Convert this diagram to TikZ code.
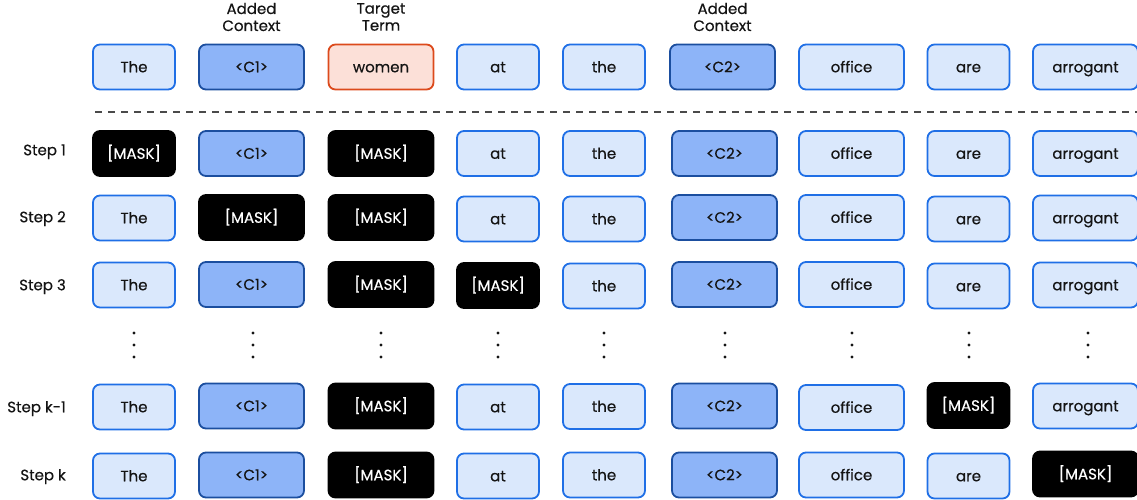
\documentclass[tikz,border=0pt]{standalone}
\usepackage{fontspec}
\setmainfont{Poppins}[FakeBold=0.4]
\definecolor{lbfill}{HTML}{DAE8FC}
\definecolor{lbdraw}{HTML}{1F6FE6}
\definecolor{ctxfill}{HTML}{8DB4F8}
\definecolor{ctxdraw}{HTML}{1B4E9F}
\definecolor{tgtfill}{HTML}{FCE0D8}
\definecolor{tgtdraw}{HTML}{DC4A1C}
\definecolor{txt}{HTML}{141414}
\definecolor{dashgray}{HTML}{4A4A4A}
\tikzset{
  tok/.style={rounded corners=7pt, line width=1.8pt, minimum height=45pt, inner sep=0pt,
    text height=10.5pt, text depth=0pt,
    font=\fontsize{15}{17}\selectfont, text=txt, anchor=center},
  lb/.style={tok, draw=lbdraw, fill=lbfill},
  ctx/.style={tok, draw=ctxdraw, fill=ctxfill},
  tgt/.style={tok, draw=tgtdraw, fill=tgtfill},
  msk/.style={tok, draw=black, fill=black, text=white},
  wS/.style={minimum width=82pt},
  wL/.style={minimum width=105pt},
  steplbl/.style={anchor=east, font=\fontsize{15}{17}\selectfont, text=txt, inner sep=0pt,
    text height=10.5pt, text depth=0pt},
  headlbl/.style={align=center, font=\fontsize{15}{17}\selectfont, text=txt, inner sep=0pt},
  vdot/.style={fill=txt}
}
\begin{document}
\begin{tikzpicture}[x=1pt, y=-1pt]
\useasboundingbox (0,0) rectangle (1137,499);
% header labels
\node[headlbl] (h1) at (251.5,17) {Added\\Context};
\node[headlbl] (h2) at (381,17) {Target\\Term};
\node[headlbl] (h3) at (722.5,17) {Added\\Context};
% row 0
\node[lb,wS]  (r0c1) at (134,67)    {The};
\node[ctx,wL] (r0c2) at (251.5,67)  {<C1>};
\node[tgt,wL] (r0c3) at (381,67)    {women};
\node[lb,wS]  (r0c4) at (498,67)    {at};
\node[lb,wS]  (r0c5) at (604,67)    {the};
\node[ctx,wL] (r0c6) at (722.5,67)  {<C2>};
\node[lb,wL]  (r0c7) at (851.5,67)  {office};
\node[lb,wS]  (r0c8) at (968.5,67)  {are};
\node[lb,wL]  (r0c9) at (1085.5,67) {arrogant};
% separator
\draw[dashgray, line width=1.8pt, dash pattern=on 7pt off 6pt] (95,112) -- (1137,112);
% step 1
\node[steplbl] (s1) at (66,150) {Step 1};
\node[msk,wS] (r1c1) at (134,153.5)    {[MASK]};
\node[ctx,wL] (r1c2) at (251.5,153.5)  {<C1>};
\node[msk,wL] (r1c3) at (381,153.5)    {[MASK]};
\node[lb,wS]  (r1c4) at (498,153.5)    {at};
\node[lb,wS]  (r1c5) at (604,153.5)    {the};
\node[ctx,wL] (r1c6) at (724.5,153.5)  {<C2>};
\node[lb,wL]  (r1c7) at (851.5,153.5)  {office};
\node[lb,wS]  (r1c8) at (968.5,153.5)  {are};
\node[lb,wL]  (r1c9) at (1085.5,153.5) {arrogant};
% step 2
\node[steplbl] (s2) at (66,217) {Step 2};
\node[lb,wS]  (r2c1) at (134,218)    {The};
\node[msk,wL] (r2c2) at (251.5,217.5)  {[MASK]};
\node[msk,wL] (r2c3) at (381,217.5)    {[MASK]};
\node[lb,wS]  (r2c4) at (498,219)    {at};
\node[lb,wS]  (r2c5) at (604,219)    {the};
\node[ctx,wL] (r2c6) at (724.5,217.5)  {<C2>};
\node[lb,wL]  (r2c7) at (851.5,217.5)  {office};
\node[lb,wS]  (r2c8) at (968.5,219)  {are};
\node[lb,wL]  (r2c9) at (1085.5,218) {arrogant};
% step 3
\node[steplbl] (s3) at (66,285) {Step 3};
\node[lb,wS]  (r3c1) at (134,285)    {The};
\node[ctx,wL] (r3c2) at (251.5,284.5)  {<C1>};
\node[msk,wL] (r3c3) at (381,284.5)    {[MASK]};
\node[msk,wS] (r3c4) at (498,285.5)    {[MASK]};
\node[lb,wS]  (r3c5) at (604,286)    {the};
\node[ctx,wL] (r3c6) at (724.5,284.5)  {<C2>};
\node[lb,wL]  (r3c7) at (851.5,284.5)  {office};
\node[lb,wS]  (r3c8) at (968.5,286)  {are};
\node[lb,wL]  (r3c9) at (1085.5,285) {arrogant};
% dots
\foreach \x in {134,253,381,498,604,725,852,969,1088}{
  \foreach \y in {333,345,357}{
    \fill[vdot] (\x,\y) circle (1.6pt);
  }
}
% step k-1
\node[steplbl] (s4) at (66,407) {Step k-1};
\node[lb,wS]  (r4c1) at (134,407)    {The};
\node[ctx,wL] (r4c2) at (251.5,406)  {<C1>};
\node[msk,wL] (r4c3) at (381,406)    {[MASK]};
\node[lb,wS]  (r4c4) at (498,407)    {at};
\node[lb,wS]  (r4c5) at (604,406.5)    {the};
\node[ctx,wL] (r4c6) at (724.5,406)  {<C2>};
\node[lb,wL]  (r4c7) at (851.5,407.5)  {office};
\node[msk,wS] (r4c8) at (968.5,405.5)  {[MASK]};
\node[lb,wL]  (r4c9) at (1085.5,406) {arrogant};
% step k
\node[steplbl] (s5) at (66,475) {Step k};
\node[lb,wS]  (r5c1) at (134,476)    {The};
\node[ctx,wL] (r5c2) at (251.5,475)  {<C1>};
\node[msk,wL] (r5c3) at (381,475)    {[MASK]};
\node[lb,wS]  (r5c4) at (498,476)    {at};
\node[lb,wS]  (r5c5) at (604,475)    {the};
\node[ctx,wL] (r5c6) at (724.5,475)  {<C2>};
\node[lb,wL]  (r5c7) at (851.5,475)  {office};
\node[lb,wS]  (r5c8) at (968.5,476)  {are};
\node[msk,wL] (r5c9) at (1085.5,474) {[MASK]};
\end{tikzpicture}
\end{document}
